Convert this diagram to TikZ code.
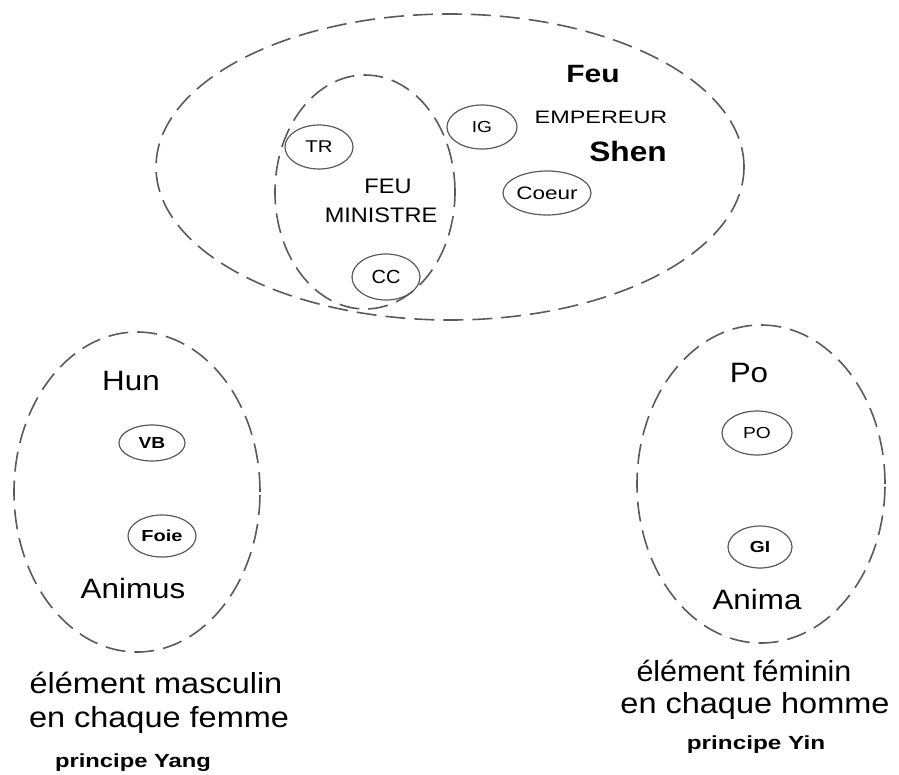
\documentclass[tikz,border=0pt]{standalone}
\usepackage{fontspec}
\setmainfont{Liberation Sans}
\usepackage{graphicx}
\usetikzlibrary{shapes.geometric}
\newcommand\wx[2]{\scalebox{#1}[1]{#2}}
\newcommand\fs[1]{\fontsize{#1}{#1}\selectfont}
\definecolor{lineg}{HTML}{5A5A5A}
\begin{document}
\begin{tikzpicture}[x=1pt,y=-1pt,
  bigell/.style={ellipse, draw=lineg, line width=1.6pt, dash pattern=on 20pt off 9pt, inner sep=0pt},
  smallell/.style={ellipse, draw=lineg, line width=1.2pt, inner sep=0pt},
  lbl/.style={inner sep=0pt, text=black}]
\useasboundingbox (0,0) rectangle (899,774);
% big ellipses
\node[bigell, minimum width=588pt, minimum height=306pt] (emp) at (450,167) {};
\node[bigell, minimum width=180pt, minimum height=234pt] (min) at (365,192) {};
\node[bigell, minimum width=246pt, minimum height=320pt] (hunE) at (137,492) {};
\node[bigell, minimum width=248pt, minimum height=318pt] (poE) at (761,484) {};
% small ellipses
\node[smallell, minimum width=68pt, minimum height=44pt] (tr) at (319,147) {\fs{17}\wx{1.2}{TR}};
\node[smallell, minimum width=70pt, minimum height=44pt] (ig) at (482,127) {\fs{16}\wx{1.2}{IG}};
\node[smallell, minimum width=68pt, minimum height=46pt] (cc) at (386,277) {\fs{19}\wx{1.05}{CC}};
\node[smallell, minimum width=88pt, minimum height=44pt] (coeur) at (547,193) {\fs{18}\wx{1.25}{Coeur}};
\node[smallell, minimum width=66pt, minimum height=36pt] (vb) at (152,443) {\fs{16}\bfseries\wx{1.2}{VB}};
\node[smallell, minimum width=68pt, minimum height=42pt] (foie) at (162,536) {\fs{16}\bfseries\wx{1.25}{Foie}};
\node[smallell, minimum width=70pt, minimum height=44pt] (po) at (757,433) {\fs{16}\wx{1.2}{PO}};
\node[smallell, minimum width=64pt, minimum height=42pt] (gi) at (760,547) {\fs{16}\bfseries\wx{1.2}{GI}};
% top texts
\node[lbl] (feu) at (593,74) {\fs{25}\bfseries\wx{1.2}{Feu}};
\node[lbl] (empereur) at (601,117) {\fs{18}\wx{1.3}{EMPEREUR}};
\node[lbl] (shen) at (628,151) {\fs{28}\bfseries\wx{1.13}{Shen}};
\node[lbl] (feum) at (388,186) {\fs{21}\wx{1.12}{FEU}};
\node[lbl] (ministre) at (381,215) {\fs{21}\wx{1.12}{MINISTRE}};
% left
\node[lbl] (hun) at (131,381) {\fs{28}\wx{1.12}{Hun}};
\node[lbl] (animus) at (133,588) {\fs{28}\wx{1.12}{Animus}};
\node[lbl] (em1) at (156,683) {\fs{29}\wx{1.12}{élément masculin}};
\node[lbl] (em2) at (159,720) {\fs{29}\wx{1.12}{en chaque femme}};
\node[lbl] (yang) at (133,763) {\fs{19}\bfseries\wx{1.25}{principe Yang}};
% right
\node[lbl] (po2) at (749,373) {\fs{28}\wx{1.12}{Po}};
\node[lbl] (anima) at (757,599) {\fs{28}\wx{1.12}{Anima}};
\node[lbl] (ef1) at (744,671) {\fs{29}\wx{1.05}{élément féminin}};
\node[lbl] (ef2) at (755,706) {\fs{29}\wx{1.12}{en chaque homme}};
\node[lbl] (yin) at (756,745) {\fs{19}\bfseries\wx{1.28}{principe Yin}};
\end{tikzpicture}
\end{document}
